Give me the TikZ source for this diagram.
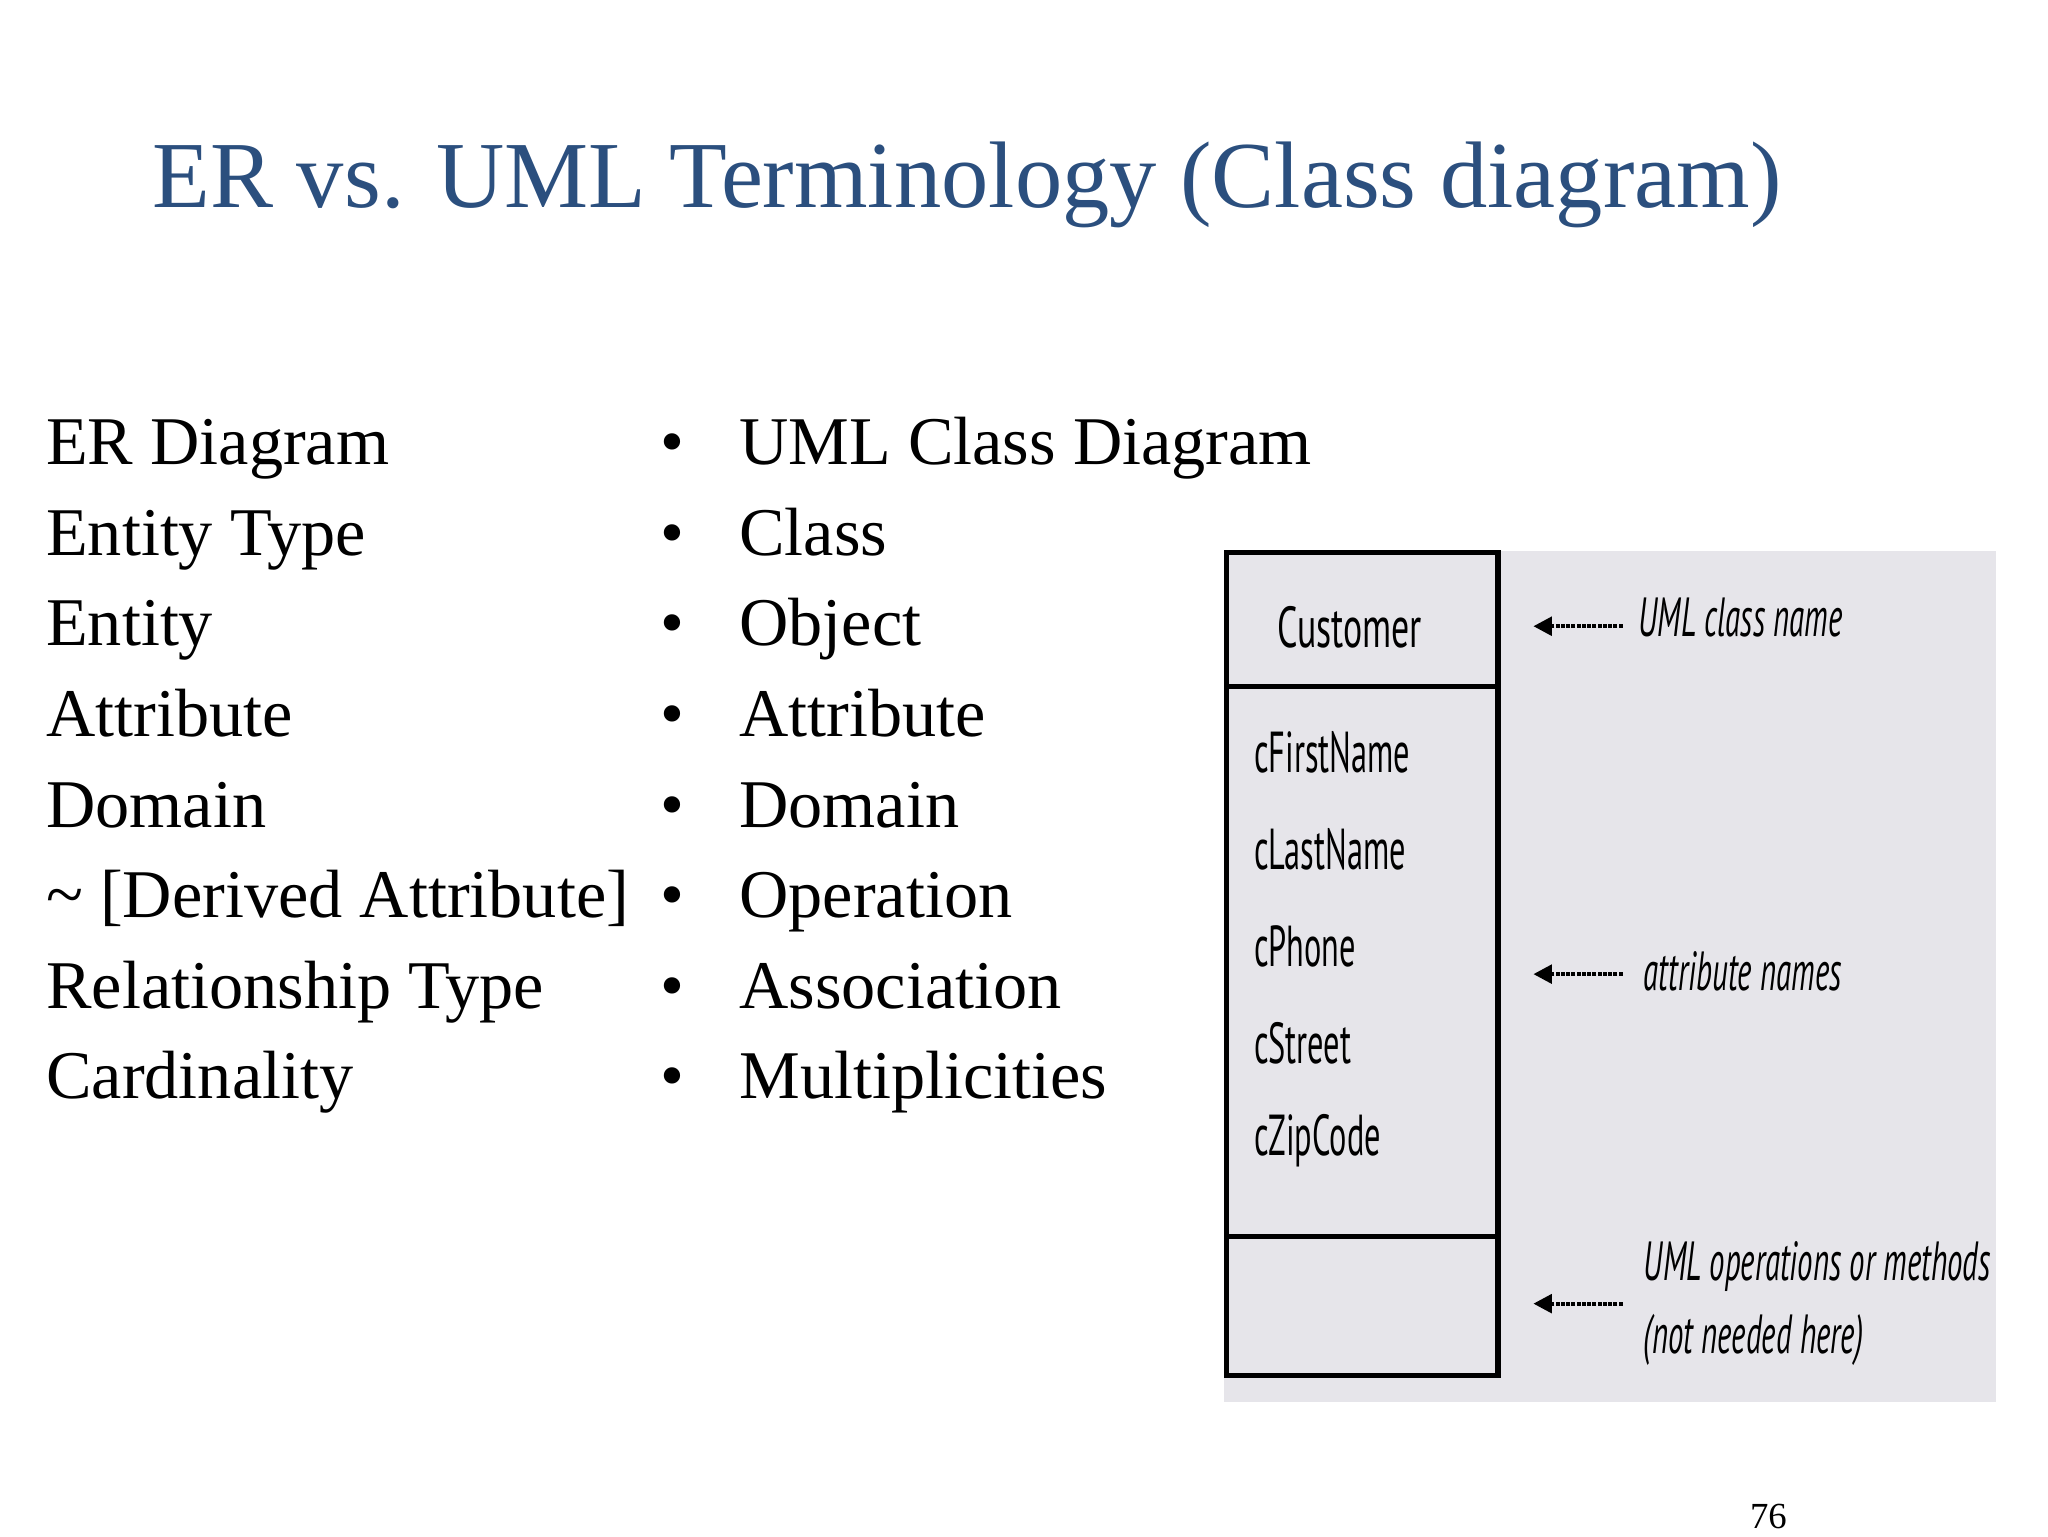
\documentclass[tikz,border=0pt]{standalone}
\usepackage{fontspec}
\setmainfont{Liberation Serif}
\newfontfamily\umlf{PT Sans}
\usetikzlibrary{arrows.meta}
\definecolor{titleblue}{HTML}{2B4F7E}
\definecolor{panel}{HTML}{E6E5EA}
\tikzset{
  body/.style={anchor=base west,font=\fontsize{52}{60}\selectfont,inner sep=0},
  uml/.style={font=\umlf\fontsize{44}{50}\selectfont,inner sep=0},
  note/.style={font=\umlf\itshape\fontsize{42}{48}\selectfont,inner sep=0,anchor=west},
  ptr/.style={densely dotted,line width=3pt,-{Triangle[length=14pt,width=14pt]}}
}
\newcommand{\nar}[1]{\scalebox{0.62}[1]{#1}}
\newcommand{\nnar}[1]{\scalebox{0.56}[1]{#1}}
\begin{document}
\begin{tikzpicture}[x=1pt,y=-1pt]
\useasboundingbox (0,0) rectangle (1560,1170);
\node[anchor=base west,inner sep=0,text=titleblue,font=\fontsize{72}{80}\selectfont] (title) at (116,158) {ER vs. UML Terminology (Class diagram)};
\foreach \l [count=\i from 0] in {ER Diagram,Entity Type,Entity,Attribute,Domain,{\symbol{126} [Derived Attribute]},Relationship Type,Cardinality}
  \node[body] (l\i) at (35,{354+69*\i}) {\l};
\foreach \r [count=\i from 0] in {UML Class Diagram,Class,Object,Attribute,Domain,Operation,Association,Multiplicities}{
  \node[body] (b\i) at (503,{354+69*\i}) {\textbullet};
  \node[body] (r\i) at (563,{354+69*\i}) {\r};}
\fill[panel] (932,420) rectangle (1520,1068);
\draw[line width=4pt] (934,421) rectangle (1141,1048);
\draw[line width=4pt] (934,523) -- (1141,523);
\draw[line width=4pt] (934,942) -- (1141,942);
\node[uml] (cust) at (1028,478) {\nar{Customer}};
\foreach \a [count=\i from 0] in {cFirstName,cLastName,cPhone,cStreet,cZipCode}
  \node[uml,anchor=west] (a\i) at (955,{573+74*\i}) {\nnar{\a}};
\node[note] (n1) at (1248,470) {\nnar{UML class name}};
\node[note] (n2) at (1252,740) {\nnar{attribute names}};
\node[note,align=left] (n3) at (1252,993) {\nnar{UML operations or methods}\\[8pt]\nnar{(not needed here)}};
\coordinate (p1) at (1168,477); \coordinate (p2) at (1168,742); \coordinate (p3) at (1168,993);
\draw[ptr] (n1.west) ++(-12,7) -- (p1);
\draw[ptr] (n2.west) ++(-16,2) -- (p2);
\draw[ptr] (n3.west) ++(-16,0) -- (p3);
\node[font=\fontsize{28}{32}\selectfont] (pg) at (1347,1155) {76};
\end{tikzpicture}
\end{document}
